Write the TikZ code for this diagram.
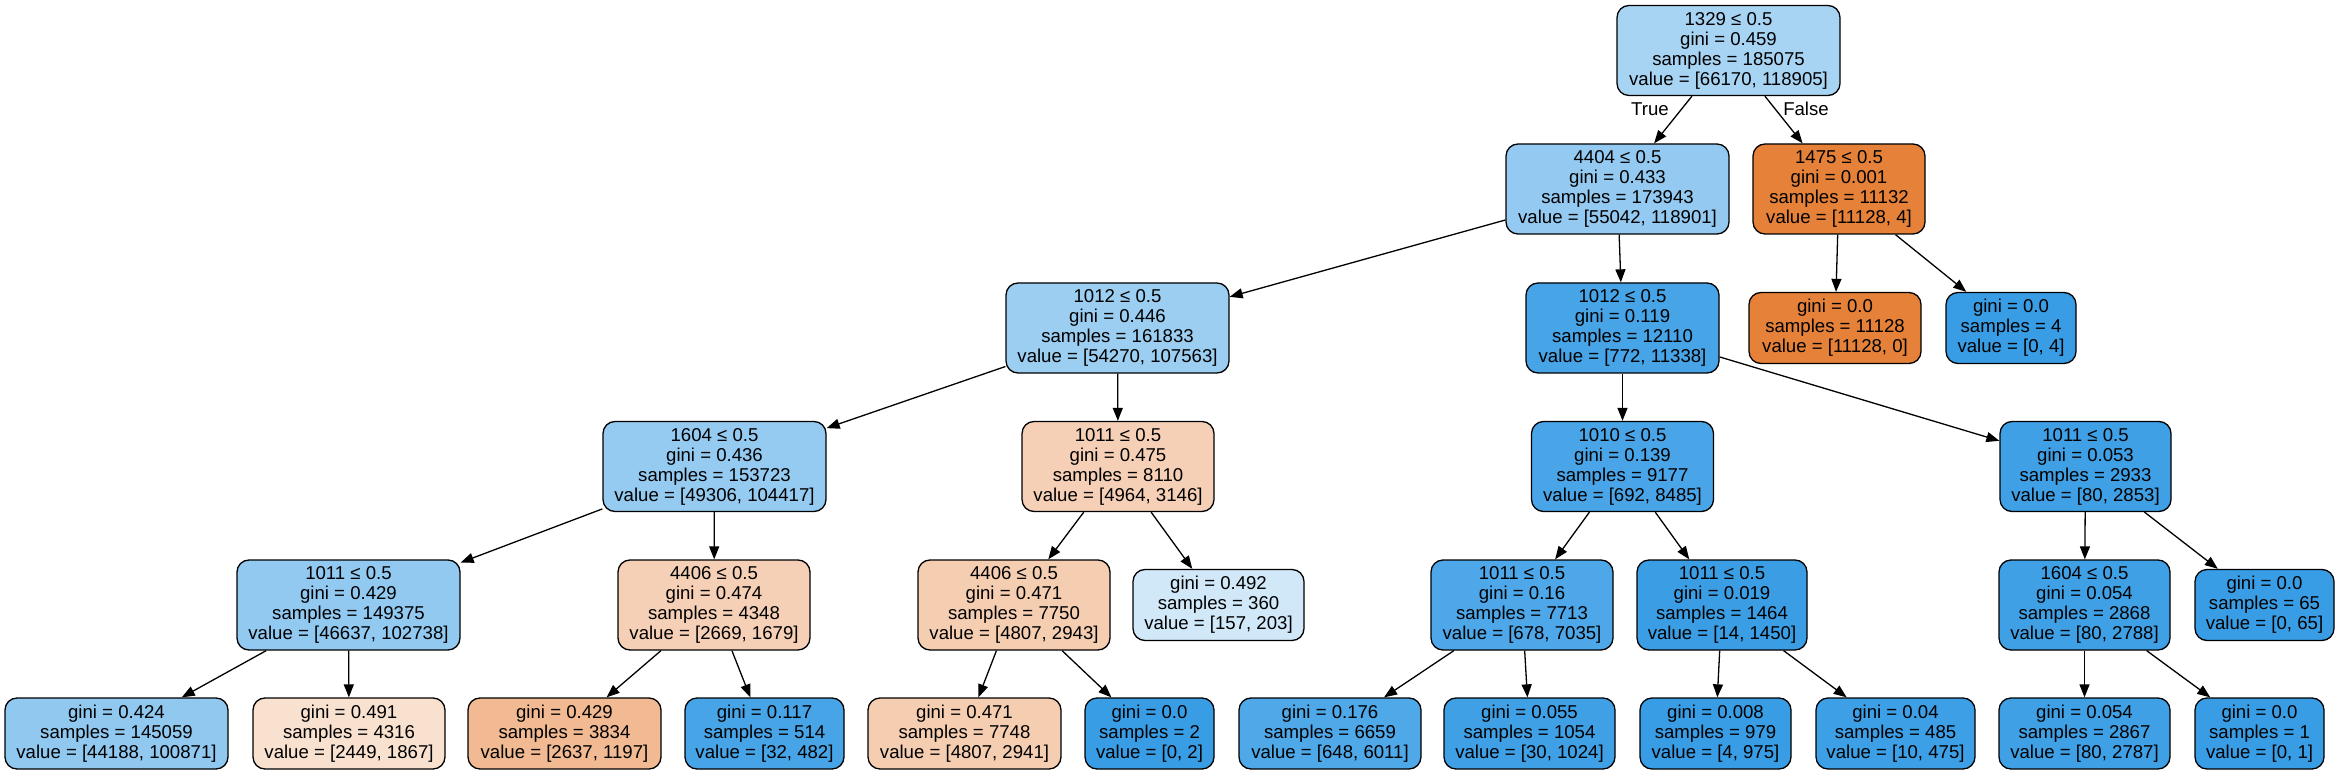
\documentclass[tikz,border=0pt]{standalone}
\usepackage{fontspec}
\setmainfont{Liberation Sans}
\usetikzlibrary{arrows.meta}
\definecolor{cb}{RGB}{57,157,229}
\definecolor{co}{RGB}{229,129,57}
\begin{document}
\begin{tikzpicture}[x=1pt,y=-1pt,
  tn/.style={draw=black, line width=1.3pt, rounded corners=12pt, align=center,
    inner sep=0pt, font={\fontsize{18.6}{20}\selectfont}},
  in4/.style={tn, minimum height=90pt},
  lf/.style={tn, minimum height=71pt},
  edge/.style={draw=black, line width=1.3pt, -{Triangle[length=13pt,width=10pt]}},
  lbl/.style={font={\fontsize{18.6}{20}\selectfont}, inner sep=0pt}]
\fill[white] (0,0) rectangle (2340,775);
\useasboundingbox (0,0) rectangle (2340,775);

% level 0
\node[in4, fill=cb!44, minimum width=223pt] (n0) at (1728.5,50.5) {1329 ≤ 0.5\\gini = 0.459\\samples = 185075\\value = [66170, 118905]};
% level 1
\node[in4, fill=cb!54, minimum width=223pt] (n1) at (1617.5,189) {4404 ≤ 0.5\\gini = 0.433\\samples = 173943\\value = [55042, 118901]};
\node[in4, fill=co!100, minimum width=172pt] (n2) at (1839,189) {1475 ≤ 0.5\\gini = 0.001\\samples = 11132\\value = [11128, 4]};
% level 2
\node[in4, fill=cb!50, minimum width=223pt] (n3) at (1117.5,328) {1012 ≤ 0.5\\gini = 0.446\\samples = 161833\\value = [54270, 107563]};
\node[in4, fill=cb!93, minimum width=193pt] (n4) at (1622.5,328) {1012 ≤ 0.5\\gini = 0.119\\samples = 12110\\value = [772, 11338]};
\node[lf, fill=co!100, minimum width=172pt] (n5) at (1835,328) {gini = 0.0\\samples = 11128\\value = [11128, 0]};
\node[lf, fill=cb!100, minimum width=130pt] (n6) at (2011,328) {gini = 0.0\\samples = 4\\value = [0, 4]};
% level 3
\node[in4, fill=cb!53, minimum width=223pt] (n7) at (714.5,466.5) {1604 ≤ 0.5\\gini = 0.436\\samples = 153723\\value = [49306, 104417]};
\node[in4, fill=co!37, minimum width=192pt] (n8) at (1118,466.5) {1011 ≤ 0.5\\gini = 0.475\\samples = 8110\\value = [4964, 3146]};
\node[in4, fill=cb!92, minimum width=182pt] (n9) at (1622.5,466.5) {1010 ≤ 0.5\\gini = 0.139\\samples = 9177\\value = [692, 8485]};
\node[in4, fill=cb!97, minimum width=171pt] (n10) at (2085.5,466.5) {1011 ≤ 0.5\\gini = 0.053\\samples = 2933\\value = [80, 2853]};
% level 4
\node[in4, fill=cb!55, minimum width=223pt] (n11) at (348.5,605) {1011 ≤ 0.5\\gini = 0.429\\samples = 149375\\value = [46637, 102738]};
\node[in4, fill=co!37, minimum width=192pt] (n12) at (714,605) {4406 ≤ 0.5\\gini = 0.474\\samples = 4348\\value = [2669, 1679]};
\node[in4, fill=co!39, minimum width=192pt] (n13) at (1014,605) {4406 ≤ 0.5\\gini = 0.471\\samples = 7750\\value = [4807, 2943]};
\node[lf, fill=cb!23, minimum width=171pt] (n14) at (1218.5,605) {gini = 0.492\\samples = 360\\value = [157, 203]};
\node[in4, fill=cb!90, minimum width=182pt] (n15) at (1522,605) {1011 ≤ 0.5\\gini = 0.16\\samples = 7713\\value = [678, 7035]};
\node[in4, fill=cb!99, minimum width=170pt] (n16) at (1722,605) {1011 ≤ 0.5\\gini = 0.019\\samples = 1464\\value = [14, 1450]};
\node[in4, fill=cb!97, minimum width=171pt] (n17) at (2084.5,605) {1604 ≤ 0.5\\gini = 0.054\\samples = 2868\\value = [80, 2788]};
\node[lf, fill=cb!100, minimum width=139pt] (n18) at (2264.5,605) {gini = 0.0\\samples = 65\\value = [0, 65]};
% level 5
\node[lf, fill=cb!56, minimum width=223pt] (l1) at (116.5,733.5) {gini = 0.424\\samples = 145059\\value = [44188, 100871]};
\node[lf, fill=co!24, minimum width=192pt] (l2) at (349,733.5) {gini = 0.491\\samples = 4316\\value = [2449, 1867]};
\node[lf, fill=co!55, minimum width=193pt] (l3) at (564.5,733.5) {gini = 0.429\\samples = 3834\\value = [2637, 1197]};
\node[lf, fill=cb!93, minimum width=159pt] (l4) at (764.5,733.5) {gini = 0.117\\samples = 514\\value = [32, 482]};
\node[lf, fill=co!39, minimum width=193pt] (l5) at (964.5,733.5) {gini = 0.471\\samples = 7748\\value = [4807, 2941]};
\node[lf, fill=cb!100, minimum width=129pt] (l6) at (1149.5,733.5) {gini = 0.0\\samples = 2\\value = [0, 2]};
\node[lf, fill=cb!89, minimum width=182pt] (l7) at (1330,733.5) {gini = 0.176\\samples = 6659\\value = [648, 6011]};
\node[lf, fill=cb!97, minimum width=171pt] (l8) at (1529.5,733.5) {gini = 0.055\\samples = 1054\\value = [30, 1024]};
\node[lf, fill=cb!100, minimum width=151pt] (l9) at (1715.5,733.5) {gini = 0.008\\samples = 979\\value = [4, 975]};
\node[lf, fill=cb!98, minimum width=159pt] (l10) at (1895.5,733.5) {gini = 0.04\\samples = 485\\value = [10, 475]};
\node[lf, fill=cb!97, minimum width=171pt] (l11) at (2084.5,733.5) {gini = 0.054\\samples = 2867\\value = [80, 2787]};
\node[lf, fill=cb!100, minimum width=129pt] (l12) at (2259.5,733.5) {gini = 0.0\\samples = 1\\value = [0, 1]};

% edge labels
\node[lbl] (ltrue) at (1650,109) {True};
\node[lbl] (lfalse) at (1806,109) {False};

% edges
\draw[edge] (n0) -- (n1);
\draw[edge] (n0) -- (n2);
\draw[edge] (n1) -- (n3);
\draw[edge] (n1) -- (n4);
\draw[edge] (n2) -- (n5);
\draw[edge] (n2) -- (n6);
\draw[edge] (n3) -- (n7);
\draw[edge] (n3) -- (n8);
\draw[edge] (n4) -- (n9);
\draw[edge] (n4) -- (n10);
\draw[edge] (n7) -- (n11);
\draw[edge] (n7) -- (n12);
\draw[edge] (n8) -- (n13);
\draw[edge] (n8) -- (n14);
\draw[edge] (n9) -- (n15);
\draw[edge] (n9) -- (n16);
\draw[edge] (n10) -- (n17);
\draw[edge] (n10) -- (n18);
\draw[edge] (n11) -- (l1);
\draw[edge] (n11) -- (l2);
\draw[edge] (n12) -- (l3);
\draw[edge] (n12) -- (l4);
\draw[edge] (n13) -- (l5);
\draw[edge] (n13) -- (l6);
\draw[edge] (n15) -- (l7);
\draw[edge] (n15) -- (l8);
\draw[edge] (n16) -- (l9);
\draw[edge] (n16) -- (l10);
\draw[edge] (n17) -- (l11);
\draw[edge] (n17) -- (l12);
\end{tikzpicture}
\end{document}
